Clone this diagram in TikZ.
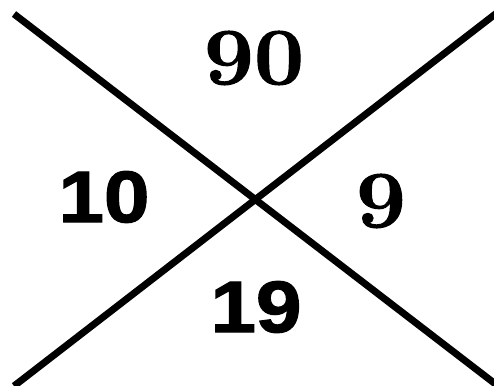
\documentclass[tikz,border=0pt]{standalone}
\usepackage{fontspec}
\newfontfamily\numsans[BoldFeatures={FakeBold=1.6}]{Liberation Sans}
\newfontfamily\numserif[BoldFeatures={FakeBold=1.2}]{Latin Modern Roman}
\begin{document}
\begin{tikzpicture}[x=1pt,y=-1pt,
  crossline/.style={line width=7pt,black},
  serifnum/.style={font=\numserif\fontsize{81}{81}\selectfont\bfseries,inner sep=0pt,anchor=center},
  sansnum/.style={font=\numsans\fontsize{73}{73}\selectfont\bfseries,inner sep=0pt,anchor=center}]
\useasboundingbox (0,0) rectangle (494,385);
\clip (0,0) rectangle (494,385);
\coordinate (tl) at (14,14);
\coordinate (br) at (498,386);
\coordinate (bl) at (14,386);
\coordinate (tr) at (498,12);
\draw[crossline] (tl) -- (br);
\draw[crossline] (bl) -- (tr);
\node[serifnum] (n90) at (254,58) {\scalebox{1.1}[1]{90}};
\node[sansnum] (n10) at (104,197) {\scalebox{1.12}[1]{10}};
\node[serifnum] (n9) at (381,201) {\scalebox{1.1}[1]{9}};
\node[sansnum] (n19) at (256,307) {\scalebox{1.12}[1]{19}};
\end{tikzpicture}
\end{document}
